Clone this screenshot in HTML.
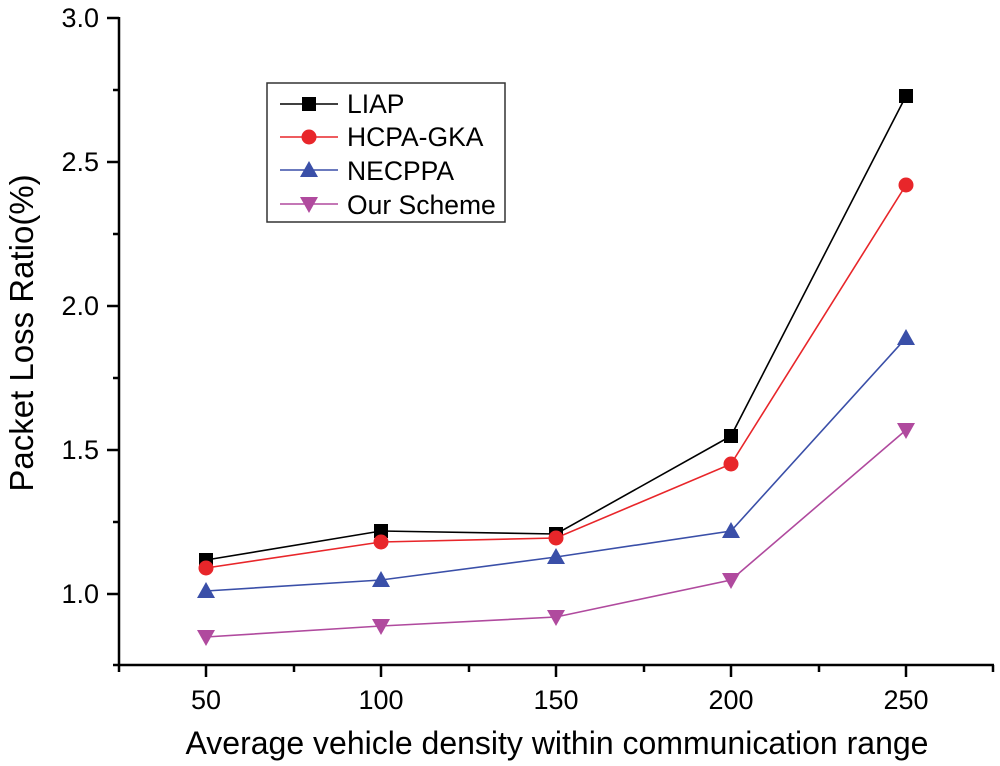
<!DOCTYPE html>
<html><head><meta charset="utf-8"><style>
html,body{margin:0;padding:0;background:#fff;}
svg{display:block;font-family:"Liberation Sans",Arial,sans-serif;}
</style></head><body>
<svg width="1000" height="766" viewBox="0 0 1000 766" xmlns="http://www.w3.org/2000/svg">
<defs>
<g id="sq"><rect x="-7" y="-7" width="14" height="14" fill="#000"/></g>
<g id="ci"><circle r="7.5" fill="#e8262a"/></g>
<g id="tu"><polygon points="0,-9 9,7 -9,7" fill="#3a4fa8"/></g>
<g id="td"><polygon points="0,9 9,-7 -9,-7" fill="#b04a9e"/></g>
</defs>
<g stroke="#000" stroke-width="2.5" fill="none">
<line x1="119" y1="17" x2="119" y2="666"/>
<line x1="118" y1="665" x2="994" y2="665"/>
<line x1="107" y1="18" x2="119" y2="18"/>
<line x1="107" y1="162" x2="119" y2="162"/>
<line x1="107" y1="306" x2="119" y2="306"/>
<line x1="107" y1="450" x2="119" y2="450"/>
<line x1="107" y1="594" x2="119" y2="594"/>
<line x1="113" y1="90" x2="119" y2="90"/>
<line x1="113" y1="234" x2="119" y2="234"/>
<line x1="113" y1="378" x2="119" y2="378"/>
<line x1="113" y1="522" x2="119" y2="522"/>
<line x1="113" y1="665" x2="119" y2="665"/>
<line x1="206" y1="665" x2="206" y2="677"/>
<line x1="381" y1="665" x2="381" y2="677"/>
<line x1="556" y1="665" x2="556" y2="677"/>
<line x1="731" y1="665" x2="731" y2="677"/>
<line x1="906" y1="665" x2="906" y2="677"/>
<line x1="119" y1="665" x2="119" y2="672"/>
<line x1="294" y1="665" x2="294" y2="672"/>
<line x1="469" y1="665" x2="469" y2="672"/>
<line x1="644" y1="665" x2="644" y2="672"/>
<line x1="819" y1="665" x2="819" y2="672"/>
<line x1="993" y1="665" x2="993" y2="672"/>
</g>
<g font-size="27" text-anchor="end" fill="#000">
<text x="99" y="27">3.0</text>
<text x="99" y="171">2.5</text>
<text x="99" y="315">2.0</text>
<text x="99" y="459">1.5</text>
<text x="99" y="603">1.0</text>
</g>
<g font-size="27" text-anchor="middle" fill="#000">
<text x="206" y="709">50</text>
<text x="381" y="709">100</text>
<text x="556" y="709">150</text>
<text x="731" y="709">200</text>
<text x="906" y="709">250</text>
</g>
<text x="557" y="754" font-size="32" text-anchor="middle">Average vehicle density within communication range</text>
<text transform="translate(33,333) rotate(-90)" font-size="33" text-anchor="middle">Packet Loss Ratio(%)</text>
<polyline fill="none" stroke="#000" stroke-width="1.6" points="206,560 381,531 556,534 731,436 906,96"/>
<polyline fill="none" stroke="#e8262a" stroke-width="1.6" points="206,568 381,542 556,538 731,464 906,185"/>
<polyline fill="none" stroke="#3a4fa8" stroke-width="1.6" points="206,591 381,580 556,557 731,531 906,338"/>
<polyline fill="none" stroke="#b04a9e" stroke-width="1.6" points="206,637 381,626 556,617 731,580 906,430"/>
<use href="#sq" x="206" y="560"/><use href="#sq" x="381" y="531"/><use href="#sq" x="556" y="534"/><use href="#sq" x="731" y="436"/><use href="#sq" x="906" y="96"/>
<use href="#ci" x="206" y="568"/><use href="#ci" x="381" y="542"/><use href="#ci" x="556" y="538"/><use href="#ci" x="731" y="464"/><use href="#ci" x="906" y="185"/>
<use href="#tu" x="206" y="591"/><use href="#tu" x="381" y="580"/><use href="#tu" x="556" y="557"/><use href="#tu" x="731" y="531"/><use href="#tu" x="906" y="338"/>
<use href="#td" x="206" y="637"/><use href="#td" x="381" y="626"/><use href="#td" x="556" y="617"/><use href="#td" x="731" y="580"/><use href="#td" x="906" y="430"/>
<rect x="267" y="83" width="238" height="139" fill="#fff" stroke="#333" stroke-width="1.5"/>
<line x1="280" y1="104" x2="338" y2="104" stroke="#000" stroke-width="1.6"/><use href="#sq" x="309" y="104"/>
<line x1="280" y1="137" x2="338" y2="137" stroke="#e8262a" stroke-width="1.6"/><use href="#ci" x="309" y="137"/>
<line x1="280" y1="170" x2="338" y2="170" stroke="#3a4fa8" stroke-width="1.6"/><use href="#tu" x="309" y="170"/>
<line x1="280" y1="204" x2="338" y2="204" stroke="#b04a9e" stroke-width="1.6"/><use href="#td" x="309" y="204"/>
<g font-size="26.5" fill="#000">
<text x="347" y="113">LIAP</text>
<text x="347" y="146">HCPA-GKA</text>
<text x="347" y="180">NECPPA</text>
<text x="347" y="214">Our Scheme</text>
</g>
</svg>
</body></html>
